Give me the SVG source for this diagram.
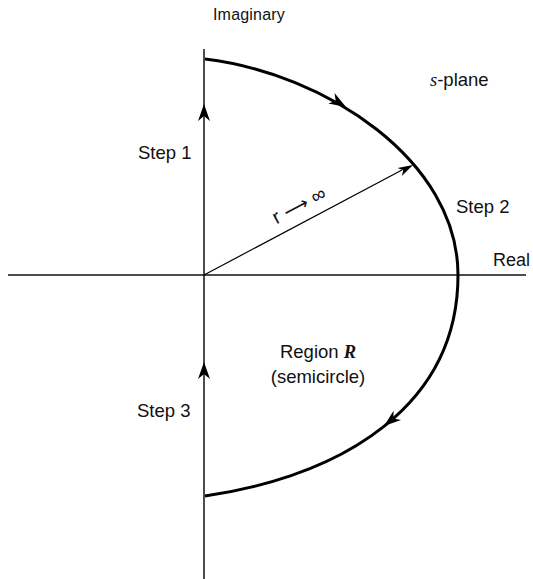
<svg xmlns="http://www.w3.org/2000/svg" width="533" height="579" viewBox="0 0 533 579">
<style>
  .t{font-family:"Liberation Sans",Arial,sans-serif;font-size:18.5px;fill:#111}
  .it{font-family:"Liberation Serif","Times New Roman",serif;font-style:italic}
  .axis{stroke:#111;stroke-width:1.5;fill:none}
  .arc{stroke:#000;stroke-width:3;fill:none}
  .ah{fill:#000}
</style>
<defs>
  <path id="head" d="M0,0 L-17,-6 L-12,0 L-17,6 Z"/>
  <path id="head2" d="M0,0 L-15,-4.5 L-11,0 L-15,4.5 Z"/>
</defs>
<g id="connectors">
  <line class="axis" x1="204" y1="49" x2="204" y2="579"/>
  <line class="axis" x1="8" y1="275" x2="526" y2="275"/>
  <path class="arc" d="M205,59 C325,73.4 458,160 458,275"/>
  <path class="arc" d="M458,275 C458,405 345,475 205,496"/>
  <line stroke="#000" stroke-width="1.2" x1="204" y1="275" x2="402" y2="170"/>
  <use class="ah" href="#head" transform="translate(204,104) rotate(-90)"/>
  <use class="ah" href="#head" transform="translate(204,362) rotate(-90)"/>
  <use class="ah" href="#head" transform="translate(346,107) rotate(31)"/>
  <use class="ah" href="#head" transform="translate(384,426) rotate(141.5)"/>
  <use class="ah" href="#head2" transform="translate(413,165) rotate(-27.8)"/>
</g>
<g id="label-imaginary"><text class="t" style="font-size:16px;letter-spacing:0.2px" x="249" y="20" text-anchor="middle">Imaginary</text></g>
<g id="label-splane"><text class="t" x="430" y="86"><tspan class="it">s</tspan>-plane</text></g>
<g id="label-step1"><text class="t" x="138" y="159">Step 1</text></g>
<g id="label-step2"><text class="t" x="456" y="213">Step 2</text></g>
<g id="label-step3"><text class="t" x="137" y="417">Step 3</text></g>
<g id="label-real"><text class="t" style="font-size:18px" x="493" y="266">Real</text></g>
<g id="label-r"><text class="t" style="font-size:20px" transform="translate(302,211) rotate(-27.8)" text-anchor="middle">r <tspan style="font-family:'DejaVu Sans',sans-serif;font-size:18px">⟶</tspan> ∞</text></g>
<g id="label-region"><text class="t" x="318" y="358" text-anchor="middle">Region <tspan class="it" style="font-weight:bold">R</tspan></text>
<text class="t" x="318" y="383" text-anchor="middle">(semicircle)</text></g>
</svg>
